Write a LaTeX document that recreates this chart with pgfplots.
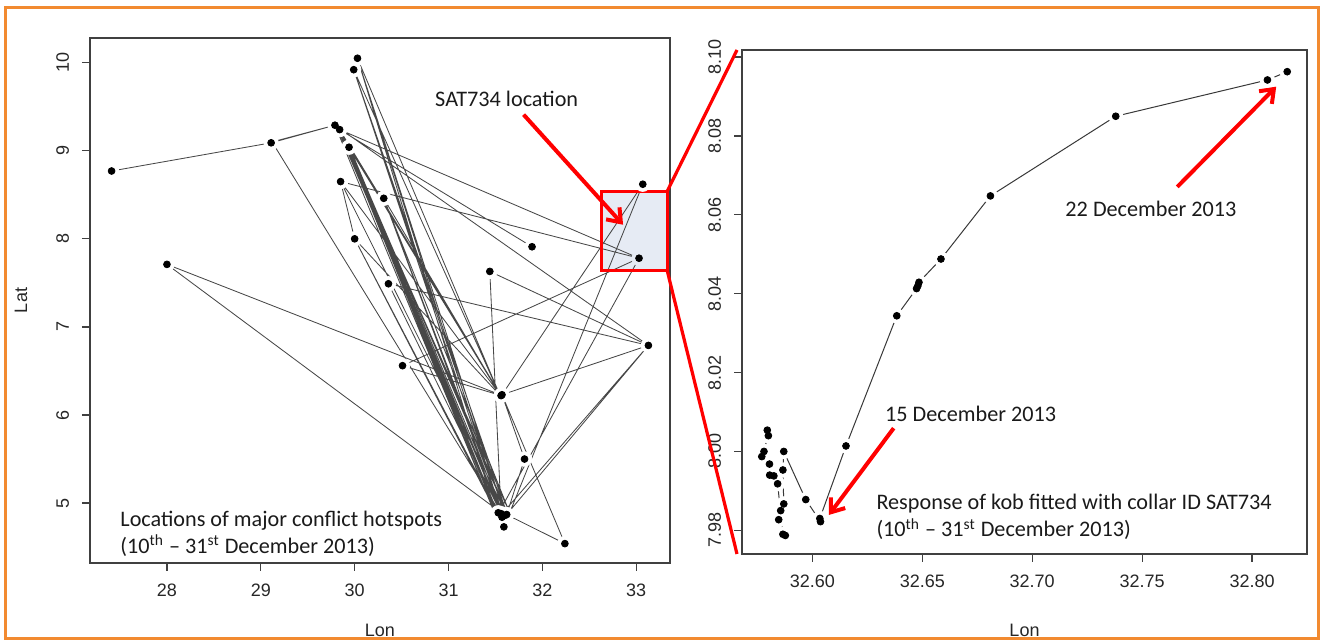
\documentclass[border=0pt]{standalone}
\usepackage{pgfplots}
\pgfplotsset{compat=1.18}
\usepackage{fontspec}
\setmainfont{Carlito}
\newfontfamily\arialf{Liberation Sans}
\usetikzlibrary{arrows.meta}
\definecolor{frameorange}{HTML}{F28A30}
\definecolor{boxfill}{HTML}{E6EBF4}
\definecolor{axgray}{HTML}{404040}
\definecolor{txt}{HTML}{1A1A1A}
\newcommand\annfont{\fontsize{11.1}{13.5}\selectfont}
\pgfplotsset{rstyle/.style={
  scale only axis, anchor=south west,
  axis line style={axgray, line width=0.7pt},
  tick align=outside, xtick pos=bottom, ytick pos=left,
  major tick length=4pt, tick style={axgray, line width=0.6pt},
  ticklabel style={font=\arialf\fontsize{9}{10}\selectfont, text=black!85},
  /pgf/number format/assume math mode=true,
  label style={font=\arialf\fontsize{9}{10}\selectfont, text=black!85},
  yticklabel style={rotate=90, anchor=south},
  ticklabel shift=3pt,
  scaled ticks=false,
  minor tick num=0,
}}
\pgfplotstableread{
x y
27.41 8.77
29.11 9.09
29.79 9.29
29.12 9.10
31.55 4.89
29.84 9.24
31.49 4.93
30.03 10.05
31.56 4.90
29.99 9.92
31.55 6.22
30.03 10.05
31.60 4.87
29.99 9.92
31.63 4.86
29.94 9.04
31.52 4.90
29.86 9.18
31.47 4.94
29.79 9.29
33.13 6.79
31.62 4.87
29.85 8.65
33.03 7.78
30.51 6.56
31.56 6.22
29.84 9.24
31.66 4.87
30.31 8.46
31.59 4.86
29.97 8.98
31.50 4.91
30.00 8.00
31.56 6.21
29.81 9.27
31.58 4.84
29.88 9.14
31.55 6.23
30.31 8.46
31.57 4.86
30.36 7.49
33.13 6.79
31.44 7.63
31.56 4.89
29.92 9.08
31.64 4.86
33.07 8.62
31.57 6.23
33.13 6.79
31.58 4.89
32.24 4.54
31.57 6.23
31.81 5.50
31.62 4.87
31.59 4.73
31.60 4.86
28.00 7.71
31.55 6.23
29.85 8.65
30.00 8.00
31.53 4.88
33.03 7.78
29.84 9.24
31.89 7.91
}\leftpath
\pgfplotstableread{
x y
27.41 8.77
29.11 9.09
29.79 9.29
29.84 9.24
29.94 9.04
30.03 10.05
29.99 9.92
29.85 8.65
30.31 8.46
30.00 8.00
31.89 7.91
33.07 8.62
28.00 7.71
30.36 7.49
31.44 7.63
33.13 6.79
30.51 6.56
31.56 6.22
31.57 6.23
31.81 5.50
31.56 4.88
31.60 4.86
31.62 4.87
31.57 4.84
31.53 4.89
31.59 4.73
32.24 4.54
}\leftpts
\pgfplotstableread{
x y
33.03 7.78
}\leftinbox
\pgfplotstableread{
x y
32.5795 8.0054
32.5800 8.0040
32.5770 7.9987
32.5780 8.0000
32.5805 7.9968
32.5806 7.9940
32.5825 7.9938
32.5842 7.9918
32.5866 7.9790
32.5877 7.9787
32.5847 7.9827
32.5856 7.9850
32.5870 7.9867
32.5866 7.9953
32.5870 8.0000
32.5970 7.9878
32.6037 7.9822
32.6034 7.9830
32.6153 8.0014
32.6384 8.0344
32.6474 8.0413
32.6480 8.0420
32.6485 8.0429
32.6585 8.0488
32.6810 8.0648
32.7380 8.0850
32.8070 8.0942
32.8160 8.0963
}\rightpath
\begin{document}
\begin{tikzpicture}
% left panel
\begin{axis}[rstyle, at={(45pt,39pt)}, width=290pt, height=262.5pt,
  xmin=27.18, xmax=33.36, ymin=4.32, ymax=10.28,
  xtick={28,29,30,31,32,33}, ytick={5,6,7,8,9,10},
  xlabel={Lon}, ylabel={Lat},
  xlabel style={at={(axis description cs:0.5,-0.128)}, anchor=center},
  ylabel style={at={(axis description cs:-0.119,0.5)}, anchor=center, rotate=0},
]
\fill[boxfill] (axis cs:32.63,7.64) rectangle (axis cs:33.33,8.54);
\addplot[black!72, line width=0.42pt, mark=none] table[x=x,y=y] {\leftpath};
\addplot[only marks, white, mark=*, mark size=3.6pt, mark options={draw=white, fill=white}] table[x=x,y=y] {\leftpts};
\addplot[only marks, boxfill, mark=*, mark size=3.6pt, mark options={draw=boxfill, fill=boxfill}] table[x=x,y=y] {\leftinbox};
\addplot[only marks, black, mark=*, mark size=1.7pt, mark options={draw=black, fill=black}] table[x=x,y=y] {\leftpts};
\addplot[only marks, black, mark=*, mark size=1.7pt, mark options={draw=black, fill=black}] table[x=x,y=y] {\leftinbox};
\draw[red, line width=1.6pt] (axis cs:32.63,7.64) rectangle (axis cs:33.33,8.54);
\draw[red, line width=2pt, -{Straight Barb[length=6pt,width=9pt]}] (axis cs:31.80,9.41) -- (axis cs:32.86,8.16);
\node[font=\annfont, text=txt] at (axis cs:31.62,9.59) {SAT734 location};
\node[font=\annfont, text=txt, align=left, anchor=west, inner sep=0pt] at (axis cs:27.50,4.65)
  {Locations of major conflict hotspots\\(10\textsuperscript{th} -- 31\textsuperscript{st} December 2013)};
\coordinate (lt) at (axis cs:33.33,8.54);
\coordinate (lb) at (axis cs:33.33,7.64);
\end{axis}
% right panel
\begin{axis}[rstyle, at={(371pt,43.5pt)}, width=282.5pt, height=252pt,
  xmin=32.568, xmax=32.825, ymin=7.974, ymax=8.1018,
  xtick={32.60,32.65,32.70,32.75,32.80}, ytick={7.98,8.00,8.02,8.04,8.06,8.08,8.10},
  xticklabel style={/pgf/number format/.cd, fixed, fixed zerofill, precision=2},
  yticklabel style={/pgf/number format/.cd, fixed, fixed zerofill, precision=2},
  xlabel={Lon},
  xlabel style={at={(axis description cs:0.5,-0.151)}, anchor=center},
]
\addplot[black!78, line width=0.5pt, mark=none] table[x=x,y=y] {\rightpath};
\addplot[only marks, white, mark=*, mark size=3.6pt, mark options={draw=white, fill=white}] table[x=x,y=y] {\rightpath};
\addplot[only marks, black, mark=*, mark size=1.7pt, mark options={draw=black, fill=black}] table[x=x,y=y] {\rightpath};
\draw[red, line width=2pt, -{Straight Barb[length=6pt,width=9pt]}] (axis cs:32.766,8.0671) -- (axis cs:32.811,8.0925);
\draw[red, line width=2pt, -{Straight Barb[length=6pt,width=9pt]}] (axis cs:32.637,8.0059) -- (axis cs:32.6075,7.9839);
\node[font=\annfont, text=txt] at (axis cs:32.754,8.0616) {22 December 2013};
\node[font=\annfont, text=txt] at (axis cs:32.672,8.0096) {15 December 2013};
\node[font=\annfont, text=txt, align=left, anchor=west, inner sep=0pt] at (axis cs:32.629,7.9833)
  {Response of kob fitted with collar ID SAT734\\(10\textsuperscript{th} -- 31\textsuperscript{st} December 2013)};
\coordinate (rt) at (rel axis cs:0,1);
\coordinate (rb) at (rel axis cs:0,0);
\end{axis}
\draw[red, line width=1.6pt] (lt) -- ([xshift=-2.5pt]rt);
\draw[red, line width=1.6pt] (lb) -- ([xshift=-2.5pt]rb);
\draw[frameorange, line width=1.5pt] (2.5pt,1.2pt) rectangle (659pt,316.5pt);
\pgfresetboundingbox
\path[use as bounding box] (0,0) rectangle (662pt,320.5pt);
\end{tikzpicture}
\end{document}
